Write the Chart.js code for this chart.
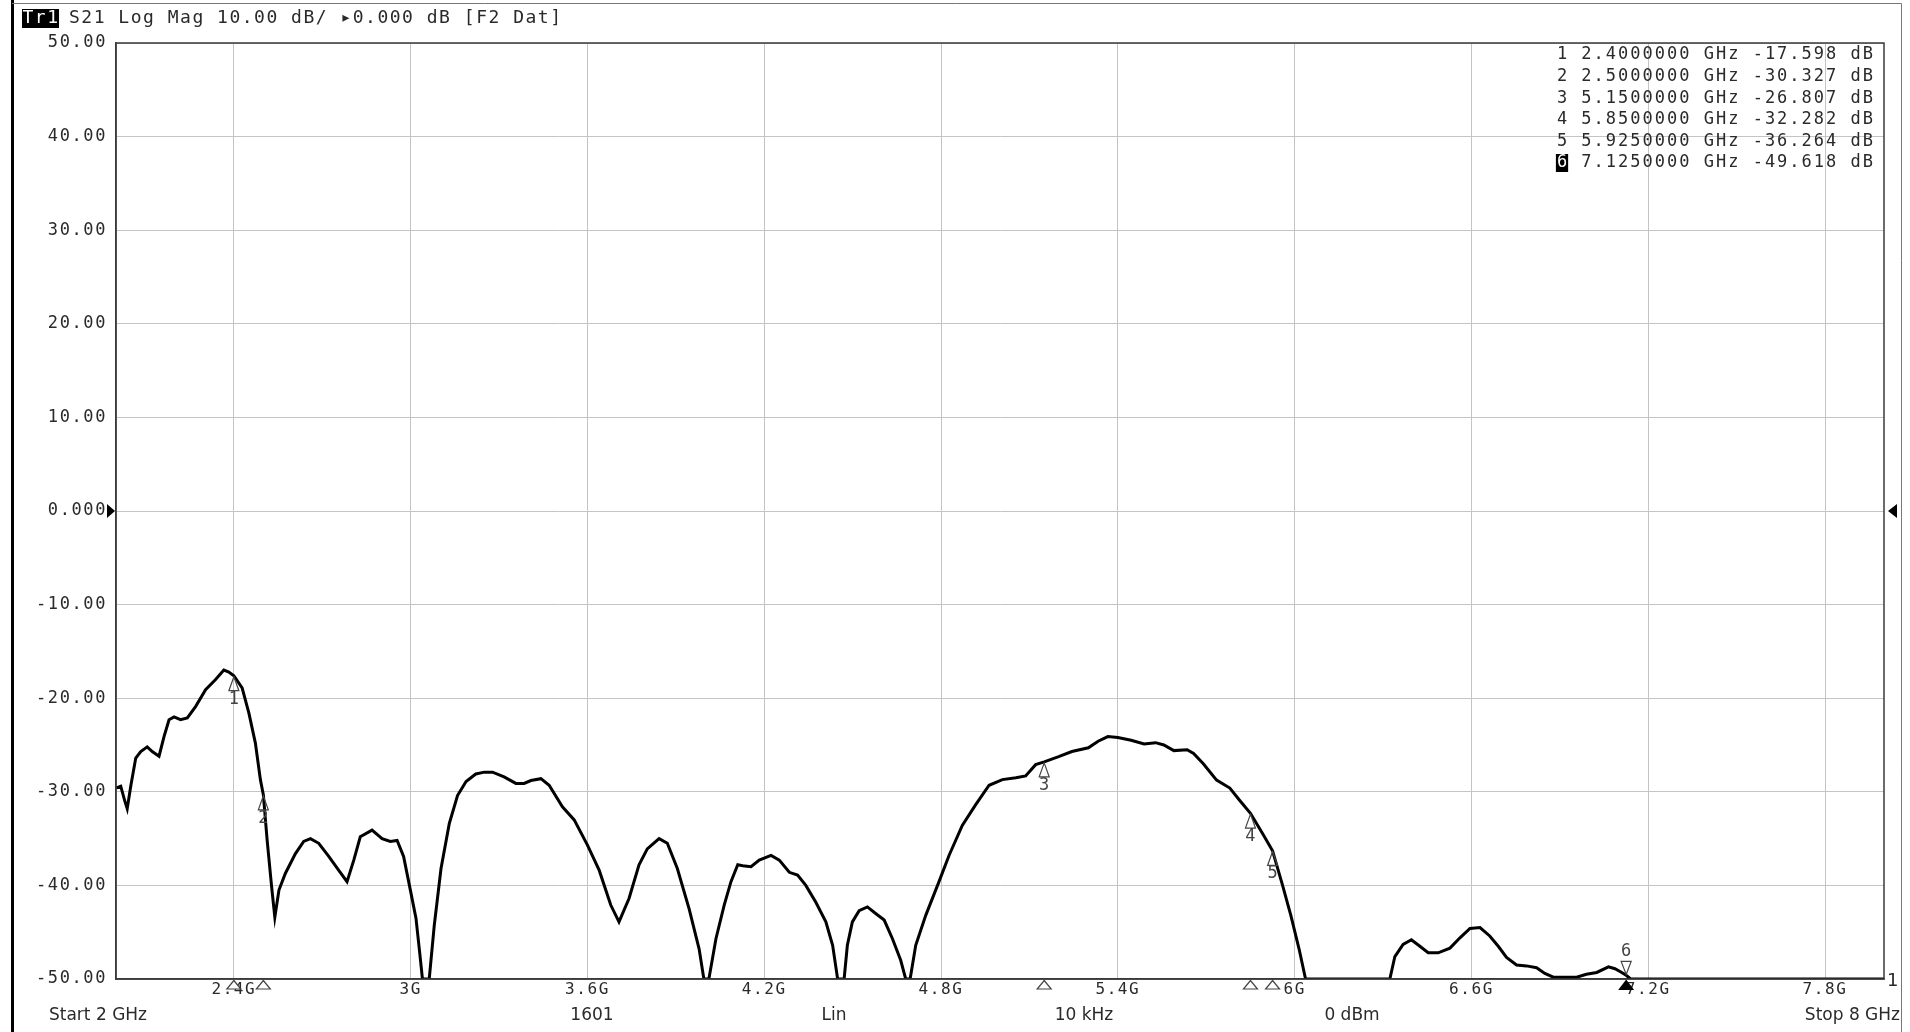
<!DOCTYPE html>
<html>
<head>
<meta charset="utf-8">
<script src="https://cdn.jsdelivr.net/npm/chart.js@4.4.1/dist/chart.umd.min.js"></script>
<style>
html,body{margin:0;padding:0;background:#fff;overflow:hidden;}
canvas{display:block;}
</style>
</head>
<body>
<canvas id="c" width="1910" height="1032"></canvas>
<script>
// ---- data ----
const freqGHz = [2.000,2.016,2.030,2.038,2.050,2.067,2.084,2.106,2.123,2.146,2.163,2.180,2.197,2.219,2.242,2.270,2.304,2.338,2.366,2.383,2.400,2.428,2.451,2.473,2.490,2.500,2.513,2.528,2.539,2.553,2.575,2.609,2.637,2.660,2.688,2.722,2.756,2.784,2.807,2.829,2.869,2.903,2.931,2.954,2.976,2.999,3.018,3.030,3.040,3.063,3.080,3.103,3.131,3.159,3.188,3.221,3.250,3.278,3.317,3.357,3.385,3.408,3.442,3.470,3.515,3.555,3.600,3.640,3.679,3.707,3.741,3.775,3.803,3.843,3.871,3.905,3.945,3.979,3.995,4.012,4.036,4.064,4.087,4.110,4.127,4.155,4.183,4.223,4.251,4.285,4.313,4.341,4.375,4.409,4.432,4.449,4.471,4.482,4.499,4.522,4.550,4.578,4.607,4.635,4.663,4.680,4.695,4.714,4.748,4.793,4.827,4.872,4.917,4.963,5.008,5.054,5.087,5.121,5.150,5.199,5.244,5.300,5.333,5.366,5.400,5.445,5.489,5.528,5.556,5.590,5.635,5.657,5.690,5.735,5.780,5.813,5.850,5.892,5.925,5.959,5.987,6.015,6.037,6.323,6.340,6.368,6.396,6.425,6.453,6.487,6.527,6.561,6.595,6.629,6.662,6.691,6.719,6.753,6.787,6.821,6.849,6.878,6.957,6.990,7.025,7.065,7.087,7.110,7.125,7.140,8.000];
const magDB = [-29.6,-29.4,-31.0,-31.8,-29.4,-26.4,-25.7,-25.2,-25.7,-26.2,-24.1,-22.3,-22.0,-22.3,-22.1,-20.9,-19.1,-18.0,-17.0,-17.2,-17.6,-18.9,-21.6,-24.8,-28.7,-30.3,-35.2,-40.1,-43.4,-40.5,-38.7,-36.6,-35.3,-35.0,-35.5,-36.9,-38.4,-39.6,-37.3,-34.8,-34.1,-35.0,-35.3,-35.2,-36.9,-40.5,-43.5,-47.0,-50,-50,-44.3,-38.2,-33.4,-30.4,-28.9,-28.1,-27.9,-27.9,-28.4,-29.1,-29.1,-28.8,-28.6,-29.3,-31.6,-33.0,-35.7,-38.4,-42.1,-43.9,-41.4,-37.8,-36.1,-35.0,-35.5,-38.2,-42.5,-46.8,-50,-50,-45.7,-42.1,-39.6,-37.8,-37.9,-38.0,-37.3,-36.8,-37.3,-38.6,-38.9,-40.0,-41.8,-43.9,-46.4,-50,-50,-46.4,-43.9,-42.7,-42.3,-43.0,-43.7,-45.7,-48.0,-50,-50,-46.4,-43.2,-39.6,-36.8,-33.6,-31.4,-29.3,-28.7,-28.5,-28.3,-27.1,-26.8,-26.25,-25.7,-25.3,-24.6,-24.1,-24.2,-24.5,-24.9,-24.75,-25.0,-25.6,-25.5,-25.9,-27.0,-28.75,-29.6,-30.9,-32.3,-34.5,-36.3,-40.0,-43.2,-46.8,-50,-50,-47.6,-46.3,-45.8,-46.5,-47.2,-47.2,-46.7,-45.6,-44.6,-44.5,-45.4,-46.5,-47.7,-48.5,-48.6,-48.8,-49.4,-49.8,-49.8,-49.5,-49.3,-48.7,-48.9,-49.3,-49.6,-50,-50];

const markerNum  = [1, 2, 3, 4, 5, 6];
const markerFreq = [2.4, 2.5, 5.15, 5.85, 5.925, 7.125];
const markerMag  = [-17.598, -30.327, -26.807, -32.282, -36.264, -49.618];
const activeMarker = 6;

const xTickValues = [2.4, 3.0, 3.6, 4.2, 4.8, 5.4, 6.0, 6.6, 7.2, 7.8];
const xTickLabels = ['2.4G','3G','3.6G','4.2G','4.8G','5.4G','6G','6.6G','7.2G','7.8G'];
const yTickValues = [-50,-40,-30,-20,-10,0,10,20,30,40,50];
const yTickLabels = ['-50.00','-40.00','-30.00','-20.00','-10.00','0.000','10.00','20.00','30.00','40.00','50.00'];

const headerTag = 'Tr1';
const headerText = 'S21 Log Mag 10.00 dB/ \u25B80.000 dB [F2 Dat]';
const footerLabels = ['Start 2 GHz','1601','Lin','10 kHz','0 dBm','Stop 8 GHz'];
const refLevel = 0;
const channelLabel = '1';

// ---- styling ----
const MONO = '"DejaVu Sans Mono", "Liberation Mono", monospace';
const SANS = '"DejaVu Sans", "Liberation Sans", sans-serif';
const TXT = '#2a2a2a';

const decor = {
  id: 'decor',
  beforeDraw(chart) {
    chart.ctx.letterSpacing = '1.6px';
  },
  afterDraw(chart) {
    const ctx = chart.ctx;
    const xs = chart.scales.x, ys = chart.scales.y;
    const a = chart.chartArea;
    ctx.save();
    // plot frame
    ctx.strokeStyle = '#3a3a3a';
    ctx.lineWidth = 1.5;
    ctx.strokeRect(a.left, a.top, a.right - a.left, a.bottom - a.top);
    // outer frame
    ctx.fillStyle = '#000';
    ctx.fillRect(11, 0, 3, 1032);
    ctx.strokeStyle = '#777';
    ctx.lineWidth = 1;
    ctx.beginPath();
    ctx.moveTo(12, 3.5); ctx.lineTo(1901.5, 3.5); ctx.lineTo(1901.5, 1032);
    ctx.stroke();

    // header
    ctx.letterSpacing = '1.5px';
    ctx.font = '18px ' + MONO;
    ctx.textBaseline = 'middle';
    ctx.textAlign = 'left';
    const tagW = ctx.measureText(headerTag).width;
    ctx.fillStyle = '#000';
    ctx.fillRect(22, 9, tagW, 19);
    ctx.fillStyle = '#fff';
    ctx.fillText(headerTag, 22.5, 18.5);
    ctx.fillStyle = TXT;
    ctx.fillText(headerText, 22 + tagW + 10, 18.5);

    // reference level arrows
    const yRef = ys.getPixelForValue(refLevel);
    ctx.fillStyle = '#000';
    ctx.beginPath();
    ctx.moveTo(107, yRef - 7); ctx.lineTo(115, yRef); ctx.lineTo(107, yRef + 7); ctx.closePath(); ctx.fill();
    ctx.beginPath();
    ctx.moveTo(1897, yRef - 7); ctx.lineTo(1888, yRef); ctx.lineTo(1897, yRef + 7); ctx.closePath(); ctx.fill();

    // marker table
    ctx.font = '17px ' + MONO;
    ctx.letterSpacing = '2px';
    for (let i = 0; i < markerNum.length; i++) {
      const line = markerNum[i] + ' ' + markerFreq[i].toFixed(7) + ' GHz ' + markerMag[i].toFixed(3) + ' dB';
      const yy = 55 + i * 21.6;
      const rx = 1875;
      ctx.fillStyle = TXT;
      ctx.textAlign = 'right';
      ctx.fillText(line, rx, yy);
      if (markerNum[i] === activeMarker) {
        const wFull = ctx.measureText(line).width;
        const wNum = ctx.measureText(String(markerNum[i])).width;
        const lx = rx - wFull;
        ctx.fillStyle = '#000';
        ctx.fillRect(lx - 1, yy - 9, wNum, 18);
        ctx.fillStyle = '#fff';
        ctx.textAlign = 'left';
        ctx.fillText(String(markerNum[i]), lx, yy);
      }
    }

    // markers on trace and on axis
    ctx.letterSpacing = '0px';
    for (let i = 0; i < markerNum.length; i++) {
      const px = xs.getPixelForValue(markerFreq[i]);
      const py = ys.getPixelForValue(markerMag[i]);
      const active = markerNum[i] === activeMarker;
      ctx.lineWidth = 1.2;
      ctx.strokeStyle = '#444';
      ctx.font = '17px ' + MONO;
      ctx.textAlign = 'center';
      if (!active) {
        ctx.beginPath();
        ctx.moveTo(px, py + 1); ctx.lineTo(px + 5, py + 15); ctx.lineTo(px - 5, py + 15); ctx.closePath();
        ctx.stroke();
        ctx.fillStyle = '#444';
        ctx.textBaseline = 'top';
        ctx.fillText(String(markerNum[i]), px, py + 15);
        ctx.fillStyle = '#fff';
        ctx.beginPath();
        ctx.moveTo(px, a.bottom + 1.5); ctx.lineTo(px + 7, a.bottom + 10); ctx.lineTo(px - 7, a.bottom + 10); ctx.closePath();
        ctx.fill(); ctx.stroke();
      } else {
        ctx.beginPath();
        ctx.moveTo(px, py - 1); ctx.lineTo(px + 5, py - 14); ctx.lineTo(px - 5, py - 14); ctx.closePath();
        ctx.stroke();
        ctx.fillStyle = '#444';
        ctx.textBaseline = 'bottom';
        ctx.fillText(String(markerNum[i]), px, py - 15);
        ctx.fillStyle = '#000';
        ctx.beginPath();
        ctx.moveTo(px, a.bottom + 0.5); ctx.lineTo(px + 8, a.bottom + 11); ctx.lineTo(px - 8, a.bottom + 11); ctx.closePath();
        ctx.fill();
      }
    }

    // channel label
    ctx.fillStyle = TXT;
    ctx.font = '18px ' + SANS;
    ctx.textAlign = 'left';
    ctx.textBaseline = 'middle';
    ctx.fillText(channelLabel, a.right + 3, a.bottom + 2);

    // footer
    ctx.font = '17px ' + SANS;
    ctx.fillStyle = TXT;
    ctx.textBaseline = 'middle';
    const fy = 1016;
    const fpos = [[49,'left'],[592,'center'],[834,'center'],[1084,'center'],[1352,'center'],[1900,'right']];
    for (let i = 0; i < footerLabels.length; i++) {
      ctx.textAlign = fpos[i][1];
      ctx.fillText(footerLabels[i], fpos[i][0], fy);
    }
    ctx.restore();
  }
};

new Chart(document.getElementById('c'), {
  type: 'line',
  data: {
    datasets: [{
      data: freqGHz.map((f, i) => ({ x: f, y: magDB[i] })),
      borderColor: '#000',
      borderWidth: 3,
      pointRadius: 0,
      tension: 0,
      fill: false
    }]
  },
  options: {
    responsive: false,
    animation: false,
    devicePixelRatio: 1,
    layout: { padding: { left: 0, top: 43, right: 26, bottom: 0 } },
    plugins: { legend: { display: false }, tooltip: { enabled: false } },
    scales: {
      x: {
        type: 'linear', min: 2, max: 8,
        afterBuildTicks(scale) { scale.ticks = xTickValues.map(v => ({ value: v })); },
        afterFit(scale) { scale.height = 53; },
        ticks: {
          autoSkip: false, maxRotation: 0, padding: 1,
          color: TXT, font: { family: MONO, size: 16 },
          callback(v) { const k = xTickValues.findIndex(t => Math.abs(t - v) < 1e-6); return k >= 0 ? xTickLabels[k] : ''; }
        },
        grid: { color: '#c4c4c4', lineWidth: 1, drawTicks: false },
        border: { display: true, color: '#3a3a3a', width: 1.5 }
      },
      y: {
        type: 'linear', min: -50, max: 50,
        afterBuildTicks(scale) { scale.ticks = yTickValues.map(v => ({ value: v })); },
        afterFit(scale) { scale.width = 116; },
        ticks: {
          padding: 9, color: TXT, font: { family: MONO, size: 17 },
          callback(v) { const k = yTickValues.indexOf(v); return k >= 0 ? yTickLabels[k] : ''; }
        },
        grid: { color: '#c4c4c4', lineWidth: 1, drawTicks: false },
        border: { display: true, color: '#3a3a3a', width: 1.5 }
      }
    }
  },
  plugins: [decor]
});
</script>
</body>
</html>
